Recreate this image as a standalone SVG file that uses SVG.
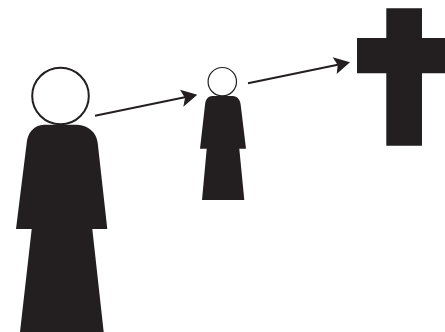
<svg xmlns="http://www.w3.org/2000/svg" width="445" height="332" viewBox="0 0 445 332">
<style>
.fill{fill:#231f20}
.head{fill:#fff;stroke:#231f20}
.line{stroke:#231f20;stroke-width:2;fill:none}
</style>
<rect width="445" height="332" fill="#fff"/>
<g id="person-large">
<circle class="head" cx="60.5" cy="96" r="28.3" stroke-width="2"/>
<path class="fill" d="M44 124.7H77C88 124.7 97 133 97.7 143L107.3 229H92.3L103.7 332H20L31.7 229H16L26.7 143C27.5 133 34 124.7 44 124.7Z"/>
</g>
<g id="person-small">
<circle class="head" cx="222.3" cy="81.7" r="14.2" stroke-width="1.2"/>
<path class="fill" d="M212.5 96H232.5C237.5 96 240.3 100 240.7 105L246 148.7H239.3L244.3 200H202L206.7 148.7H200L205 105C205.4 100 207.5 96 212.5 96Z"/>
</g>
<g id="cross">
<path class="fill" d="M386.3 8.3H422V38H445V73.3H422V145.7H386.3V73.3H357V38H386.3Z"/>
</g>
<g id="connectors">
<path class="line" d="M95 115.7L186 97"/>
<path class="fill" d="M197.3 94.7L180 89.7L185 98L183.3 106.7Z"/>
<path class="line" d="M248 83.3L339 64.5"/>
<path class="fill" d="M350 62.3L332.7 57.3L337.7 65L336.7 74Z"/>
</g>
</svg>
